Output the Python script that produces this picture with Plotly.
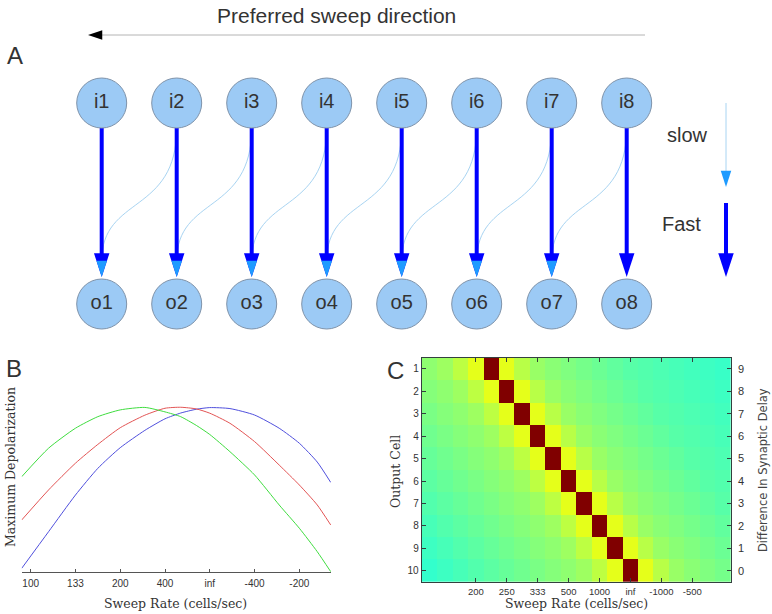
import plotly.graph_objects as go

# ---------------- data ----------------
input_labels = ["i1", "i2", "i3", "i4", "i5", "i6", "i7", "i8"]
output_labels = ["o1", "o2", "o3", "o4", "o5", "o6", "o7", "o8"]
node_pos = [1, 2, 3, 4, 5, 6, 7, 8]

# Panel B: maximum depolarization vs sweep rate (tick-index units)
b_x = [-0.2, 0.4, 1.0, 1.5, 2.0, 2.55, 3.0, 3.35, 3.7, 4.0, 4.45, 5.0, 5.55, 6.0, 6.4, 6.7]
b_green = [0.579, 0.752, 0.873, 0.943, 0.984, 0.999, 0.972, 0.943, 0.890, 0.835, 0.731, 0.590, 0.408, 0.267, 0.125, 0.004]
b_red = [0.317, 0.499, 0.661, 0.775, 0.876, 0.952, 0.994, 1.000, 0.990, 0.964, 0.903, 0.792, 0.650, 0.529, 0.408, 0.287]
b_blue = [0.024, 0.246, 0.468, 0.630, 0.755, 0.860, 0.930, 0.965, 0.988, 0.998, 0.992, 0.953, 0.873, 0.782, 0.668, 0.545]
b_tick_pos = [0, 1, 2, 3, 4, 5, 6]
b_tick_labels = ["100", "133", "200", "400", "inf", "-400", "-200"]

# Panel C: response matrix (output cell x sweep-rate column)
c_rows = [1, 2, 3, 4, 5, 6, 7, 8, 9, 10]
c_cols = list(range(20))
c_delay_labels = ["9", "8", "7", "6", "5", "4", "3", "2", "1", "0"]
c_tick_cols = [3, 5, 7, 9, 11, 13, 15, 17]
c_tick_labels = ["200", "250", "333", "500", "1000", "inf", "-1000", "-500"]
c_values = [
    [0.515, 0.53, 0.56, 0.60, 1.0, 0.60, 0.555, 0.525, 0.51, 0.50, 0.49, 0.48, 0.47, 0.46, 0.455, 0.45, 0.445, 0.44, 0.435, 0.43],
    [0.505, 0.515, 0.53, 0.56, 0.60, 1.0, 0.60, 0.555, 0.525, 0.51, 0.50, 0.49, 0.48, 0.47, 0.46, 0.455, 0.45, 0.445, 0.44, 0.435],
    [0.495, 0.505, 0.515, 0.53, 0.56, 0.60, 1.0, 0.60, 0.555, 0.525, 0.51, 0.50, 0.49, 0.48, 0.47, 0.46, 0.455, 0.45, 0.445, 0.44],
    [0.485, 0.495, 0.505, 0.515, 0.53, 0.56, 0.60, 1.0, 0.60, 0.555, 0.525, 0.51, 0.50, 0.49, 0.48, 0.47, 0.46, 0.455, 0.45, 0.445],
    [0.475, 0.485, 0.495, 0.505, 0.515, 0.53, 0.56, 0.60, 1.0, 0.60, 0.555, 0.525, 0.51, 0.50, 0.49, 0.48, 0.47, 0.46, 0.455, 0.45],
    [0.465, 0.475, 0.485, 0.495, 0.505, 0.515, 0.53, 0.56, 0.60, 1.0, 0.60, 0.555, 0.525, 0.51, 0.50, 0.49, 0.48, 0.47, 0.46, 0.455],
    [0.455, 0.465, 0.475, 0.485, 0.495, 0.505, 0.515, 0.53, 0.56, 0.60, 1.0, 0.60, 0.555, 0.525, 0.51, 0.50, 0.49, 0.48, 0.47, 0.46],
    [0.445, 0.455, 0.465, 0.475, 0.485, 0.495, 0.505, 0.515, 0.53, 0.56, 0.60, 1.0, 0.60, 0.555, 0.525, 0.51, 0.50, 0.49, 0.48, 0.47],
    [0.435, 0.445, 0.455, 0.465, 0.475, 0.485, 0.495, 0.505, 0.515, 0.53, 0.56, 0.60, 1.0, 0.60, 0.555, 0.525, 0.51, 0.50, 0.49, 0.48],
    [0.425, 0.435, 0.445, 0.455, 0.465, 0.475, 0.485, 0.495, 0.505, 0.515, 0.53, 0.56, 0.60, 1.0, 0.60, 0.555, 0.525, 0.51, 0.50, 0.49],
]

# ---------------- layout geometry ----------------
W, H = 772, 614
SANS = "Liberation Sans, Arial, sans-serif"
NARROW = "Liberation Sans Narrow, Liberation Sans, Arial, sans-serif"
SERIF = "DejaVu Serif, serif"
TXT = "#333333"


def fx(p):
    return p / W


def fy(p):
    return 1 - p / H


# panel A axes: node spacing 75 px, node 1 at 101.7 px; rows 201 px apart, outputs at 304 px
NODE_PX, NODE0_PX = 75.0, 101.7
ROW_PX, OUT_PX = 201.0, 304.0
ax_range = [1 - NODE0_PX / NODE_PX, 1 + (W - NODE0_PX) / NODE_PX]
ay_range = [-(H - OUT_PX) / ROW_PX, OUT_PX / ROW_PX]
R = 25 / ROW_PX                  # circle radius (data units)
tip = R + 2 / ROW_PX             # arrow tip just above output circle
dark_head = 24 / ROW_PX
light_base = tip + 16 / ROW_PX
IN_Y, OUT_Y = 1.0, 0.0


def ax_x(p):
    return 1 + (p - NODE0_PX) / NODE_PX


def ax_y(p):
    return (OUT_PX - p) / ROW_PX


fig = go.Figure()

# thick (fast) connections
tx, ty = [], []
for k in node_pos:
    tx += [k, k, None]
    ty += [IN_Y - R, tip + dark_head - 0.01, None]
fig.add_trace(go.Scatter(x=tx, y=ty, mode="lines", line=dict(color="#0000ff", width=4),
                         hoverinfo="skip", showlegend=False, xaxis="x", yaxis="y"))

# slow curved connections i(k+1) -> o(k)
shapes = []
for k in node_pos[:-1]:
    y0 = IN_Y - R
    yc1 = ax_y(215)
    yc2 = ax_y(195)
    path = f"M {k + 1},{y0} C {k + 1},{yc1} {k},{yc2} {k},{light_base}"
    shapes.append(dict(type="path", path=path, xref="x", yref="y", layer="below",
                       line=dict(color="#a8d4f2", width=1)))

# dark arrow heads
fig.add_trace(go.Scatter(x=node_pos, y=[tip] * len(node_pos), mode="markers",
                         marker=dict(symbol="arrow", angle=180, size=25, color="#0000ff", line=dict(width=0)),
                         hoverinfo="skip", showlegend=False, xaxis="x", yaxis="y"))
# light arrow heads
fig.add_trace(go.Scatter(x=node_pos[:-1], y=[tip] * (len(node_pos) - 1), mode="markers",
                         marker=dict(symbol="arrow", angle=180, size=17, color="#1e9bff", line=dict(width=0)),
                         hoverinfo="skip", showlegend=False, xaxis="x", yaxis="y"))

# nodes
for yv, labels in [(IN_Y, input_labels), (OUT_Y, output_labels)]:
    fig.add_trace(go.Scatter(x=node_pos, y=[yv] * len(node_pos), mode="markers+text", text=labels,
                             textposition="middle center",
                             textfont=dict(family=SANS, size=20, color=TXT),
                             marker=dict(size=50, color="#9ccaf5", line=dict(color="#7f93aa", width=1)),
                             hoverinfo="skip", showlegend=False, xaxis="x", yaxis="y"))

# legend arrows (slow / fast)
leg_x = ax_x(726)
fig.add_trace(go.Scatter(x=[leg_x, leg_x], y=[ax_y(103), ax_y(187) + 14 / ROW_PX], mode="lines",
                         line=dict(color="#a8d4f2", width=1), hoverinfo="skip", showlegend=False,
                         xaxis="x", yaxis="y"))
fig.add_trace(go.Scatter(x=[leg_x], y=[ax_y(187)], mode="markers",
                         marker=dict(symbol="arrow", angle=180, size=17, color="#1e9bff", line=dict(width=0)),
                         hoverinfo="skip", showlegend=False, xaxis="x", yaxis="y"))
fig.add_trace(go.Scatter(x=[leg_x, leg_x], y=[ax_y(203), tip + dark_head - 0.01], mode="lines",
                         line=dict(color="#0000ff", width=4), hoverinfo="skip", showlegend=False,
                         xaxis="x", yaxis="y"))
fig.add_trace(go.Scatter(x=[leg_x], y=[tip], mode="markers",
                         marker=dict(symbol="arrow", angle=180, size=25, color="#0000ff", line=dict(width=0)),
                         hoverinfo="skip", showlegend=False, xaxis="x", yaxis="y"))

# preferred-direction arrow
dir_y = ax_y(35)
fig.add_trace(go.Scatter(x=[ax_x(645), ax_x(100)], y=[dir_y, dir_y], mode="lines",
                         line=dict(color="#b4b4b4", width=1), hoverinfo="skip", showlegend=False,
                         xaxis="x", yaxis="y"))
fig.add_trace(go.Scatter(x=[ax_x(88)], y=[dir_y], mode="markers",
                         marker=dict(symbol="arrow", angle=270, size=15, color="#000000", line=dict(width=0)),
                         hoverinfo="skip", showlegend=False, xaxis="x", yaxis="y"))

# ---------------- panel B ----------------
for ys, col in [(b_blue, "#4f4fdc"), (b_red, "#e25454"), (b_green, "#3fdc3f")]:
    fig.add_trace(go.Scatter(x=b_x, y=ys, mode="lines", line=dict(color=col, width=1, shape="spline", smoothing=0.6),
                             hoverinfo="skip", showlegend=False, xaxis="x2", yaxis="y2"))

# ---------------- panel C ----------------
jet = [[0.0, "rgb(0,0,128)"], [0.125, "rgb(0,0,255)"], [0.375, "rgb(0,255,255)"],
       [0.625, "rgb(255,255,0)"], [0.875, "rgb(255,0,0)"], [1.0, "rgb(128,0,0)"]]
fig.add_trace(go.Heatmap(z=c_values, x=c_cols, y=c_rows, colorscale=jet, zmin=0, zmax=1,
                         showscale=False, hoverinfo="skip", xaxis="x3", yaxis="y3"))
fig.add_trace(go.Scatter(x=[c_cols[0]], y=[c_rows[0]], mode="markers", marker=dict(opacity=0),
                         hoverinfo="skip", showlegend=False, xaxis="x3", yaxis="y4"))

frame = "#34403f"
fig.update_layout(
    width=W, height=H, margin=dict(l=0, r=0, t=0, b=0),
    paper_bgcolor="white", plot_bgcolor="rgba(0,0,0,0)",
    shapes=shapes,
    xaxis=dict(domain=[0, 1], range=ax_range, visible=False, fixedrange=True),
    yaxis=dict(domain=[0, 1], range=ay_range, visible=False, fixedrange=True),
    xaxis2=dict(domain=[fx(21.7), fx(331)], range=[-0.2, 6.707], anchor="y2",
                showline=True, linecolor="#555555", linewidth=1, ticks="inside", ticklen=3,
                tickcolor="#555555", tickvals=b_tick_pos, ticktext=b_tick_labels, ticklabelstandoff=2,
                tickfont=dict(family=SANS, size=10, color=TXT), showgrid=False, zeroline=False),
    yaxis2=dict(domain=[fy(572.3), fy(400)], range=[0, 1.044], anchor="x2", visible=False),
    xaxis3=dict(domain=[fx(421.7), fx(731)], range=[-0.5, 19.5], anchor="y3",
                showline=True, linecolor=frame, linewidth=1, mirror="ticks", ticks="inside", ticklen=4,
                tickcolor=frame, tickvals=c_tick_cols, ticktext=c_tick_labels, ticklabelstandoff=1,
                tickfont=dict(family=NARROW, size=9.5, color=TXT), showgrid=False, zeroline=False),
    yaxis3=dict(domain=[fy(582), fy(357.7)], range=[10.5, 0.5], anchor="x3",
                showline=True, linecolor=frame, linewidth=1, mirror="ticks", ticks="inside", ticklen=4,
                tickcolor=frame, tickvals=c_rows, ticktext=[str(r) for r in c_rows],
                tickfont=dict(family=NARROW, size=10, color=TXT), showgrid=False, zeroline=False),
    yaxis4=dict(domain=[fy(582), fy(357.7)], range=[10.5, 0.5], anchor="x3", overlaying="y3", side="right",
                showline=False, ticks="", tickvals=c_rows, ticktext=c_delay_labels, ticklabelstandoff=6,
                tickfont=dict(family=NARROW, size=11, color=TXT), showgrid=False, zeroline=False),
)

ann = [
    dict(text="Preferred sweep direction", x=fx(336), y=fy(15), font=dict(family=SANS, size=21, color=TXT)),
    dict(text="A", x=fx(15), y=fy(55), font=dict(family=SANS, size=24, color=TXT)),
    dict(text="B", x=fx(14), y=fy(368), font=dict(family=SANS, size=24, color=TXT)),
    dict(text="C", x=fx(395), y=fy(370), font=dict(family=SANS, size=24, color=TXT)),
    dict(text="slow", x=fx(687), y=fy(135), font=dict(family=SANS, size=20, color=TXT)),
    dict(text="Fast", x=fx(681), y=fy(224), font=dict(family=SANS, size=20, color=TXT)),
    dict(text="Maximum Depolarization", x=fx(10), y=fy(467), textangle=-90,
         font=dict(family=SERIF, size=12.5, color=TXT)),
    dict(text="Sweep Rate (cells/sec)", x=fx(175), y=fy(603), font=dict(family=SERIF, size=12.5, color=TXT)),
    dict(text="Output Cell", x=fx(395), y=fy(472), textangle=-90, font=dict(family=SERIF, size=12.5, color=TXT)),
    dict(text="Sweep Rate (cells/sec)", x=fx(576), y=fy(603), font=dict(family=SERIF, size=12.5, color=TXT)),
    dict(text="Difference In Synaptic Delay", x=fx(763), y=fy(470), textangle=-90,
         font=dict(family="DejaVu Sans, sans-serif", size=11.5, color="#444444")),
]
for a in ann:
    a.update(xref="paper", yref="paper", showarrow=False, xanchor="center", yanchor="middle")
fig.update_layout(annotations=ann)

# the page is photographed at exactly the figure size: remove the default body margin
fig.write_html("out.html", config=dict(displayModeBar=False),
               post_script="document.body.style.margin='0px';document.documentElement.style.overflow='hidden';")
